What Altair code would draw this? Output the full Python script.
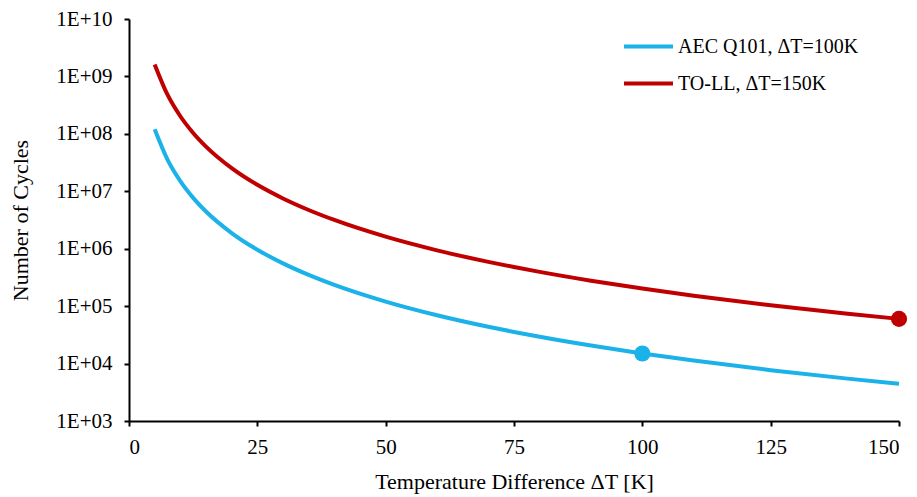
import altair as alt
import pandas as pd

dT = [5, 7.5, 10, 12.5, 15, 20, 25, 30, 35, 40, 50, 60, 70, 75, 80, 90, 100, 110, 125, 140, 150]
aec = [1.2e8, 3.556e7, 1.5e7, 7.68e6, 4.444e6, 1.875e6, 9.6e5, 5.556e5, 3.499e5, 2.344e5,
       1.2e5, 6.944e4, 4.373e4, 3.556e4, 2.93e4, 2.058e4, 1.5e4, 1.127e4, 7.68e3, 5.466e3, 4.444e3]
toll = [1.62e9, 4.8e8, 2.025e8, 1.037e8, 6.0e7, 2.531e7, 1.296e7, 7.5e6, 4.723e6, 3.164e6,
        1.62e6, 9.375e5, 5.904e5, 4.8e5, 3.955e5, 2.778e5, 2.025e5, 1.521e5, 1.037e5, 7.379e4, 6.0e4]
series = ["AEC Q101, ΔT=100K", "TO-LL, ΔT=150K"]
marker_x = [100, 150]
marker_y = [1.5e4, 6.0e4]
colors = ["#1AB2E8", "#C00000"]
y_ticks = [1e3, 1e4, 1e5, 1e6, 1e7, 1e8, 1e9, 1e10]
x_ticks = [0, 25, 50, 75, 100, 125, 150]

rows = []
for s, vals in zip(series, [aec, toll]):
    for x, v in zip(dT, vals):
        rows.append({"dT": x, "N": v, "series": s})
df = pd.DataFrame(rows)
pts = pd.DataFrame({"dT": marker_x, "N": marker_y, "series": series})

FONT = "Liberation Serif"
color_scale = alt.Scale(domain=series, range=colors)

xenc = alt.X("dT:Q", scale=alt.Scale(domain=[0, 150], nice=False),
             axis=alt.Axis(values=x_ticks, title="Temperature Difference ΔT [K]",
                           grid=False, labelPadding=10, titlePadding=14))
yenc = alt.Y("N:Q", scale=alt.Scale(type="log", domain=[1e3, 1e10], nice=False),
             axis=alt.Axis(values=y_ticks, title="Number of Cycles", grid=False,
                           labelExpr="'1E+' + (round(log(datum.value)/LN10) < 10 ? '0' : '') + format(round(log(datum.value)/LN10), 'd')",
                           labelPadding=12, titlePadding=23))

lines = alt.Chart(df).mark_line(strokeWidth=4, interpolate="monotone").encode(
    x=xenc, y=yenc,
    color=alt.Color("series:N", scale=color_scale, sort=series,
                    legend=alt.Legend(title=None, orient="none", legendX=493, legendY=1,
                                      symbolType="stroke", symbolSize=2400, symbolStrokeWidth=4,
                                      labelFontSize=20, labelFont=FONT, labelLimit=400,
                                      labelColor="black", rowPadding=0, labelOffset=3))
)
points = alt.Chart(pts).mark_circle(size=260, opacity=1).encode(
    x="dT:Q", y="N:Q",
    color=alt.Color("series:N", scale=color_scale, legend=None)
)

chart = (lines + points).properties(
    width=770, height=402,
    autosize=alt.AutoSizeParams(type="none"),
    padding={"left": 121, "top": 11, "right": 10, "bottom": 76},
).configure_view(stroke=None).configure_axis(
    domainColor="black", domainWidth=2, tickColor="black", tickWidth=2, tickSize=5,
    labelFont=FONT, titleFont=FONT, labelFontSize=21, titleFontSize=22,
    labelColor="black", titleColor="black", titleFontWeight="normal"
)

chart.save("out.html", embed_options={"renderer": "svg", "actions": False})
